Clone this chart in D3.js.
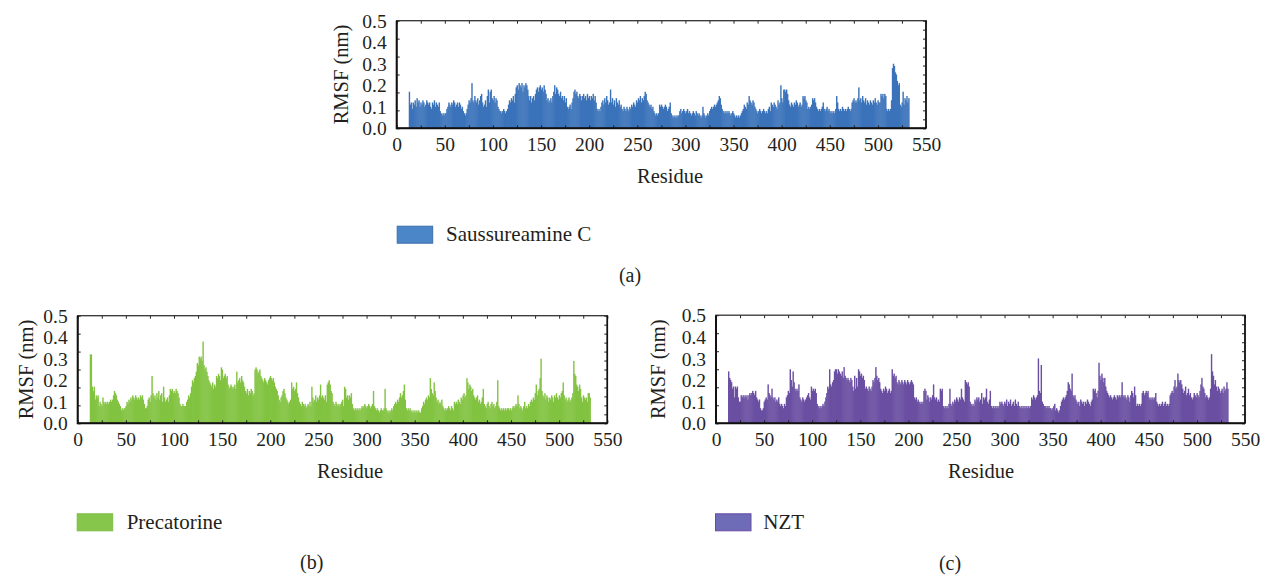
<!DOCTYPE html>
<html><head><meta charset="utf-8">
<script src="https://cdn.jsdelivr.net/npm/d3@7"></script>
<style>
body{margin:0;background:#fff}
svg{display:block}
text{font-family:"Liberation Serif","Times New Roman",serif;fill:#231f20}
</style>
</head><body>
<svg id="chart" width="1263" height="575"></svg>
<script>
// ---------------- DATA ----------------
const firstResidue = 13;   // residue number of the first value in every series

const rmsfSaussureamineC = [
0.17,0.11,0.12,0.09,0.12,0.11,0.13,0.10,0.14,0.12,
0.13,0.10,0.12,0.11,0.13,0.12,0.10,0.11,0.13,0.12,
0.11,0.12,0.10,0.09,0.12,0.11,0.13,0.10,0.12,0.11,
0.10,0.12,0.08,0.07,0.06,0.07,0.06,0.07,0.07,0.09,
0.10,0.12,0.11,0.10,0.12,0.11,0.13,0.12,0.10,0.11,
0.12,0.10,0.12,0.11,0.09,0.10,0.08,0.07,0.06,0.07,
0.09,0.11,0.13,0.12,0.14,0.21,0.13,0.12,0.15,0.13,
0.12,0.14,0.11,0.13,0.15,0.16,0.12,0.10,0.11,0.13,
0.10,0.15,0.18,0.12,0.17,0.18,0.14,0.13,0.15,0.12,
0.14,0.13,0.10,0.09,0.08,0.08,0.07,0.08,0.09,0.08,
0.07,0.08,0.09,0.11,0.13,0.12,0.14,0.13,0.15,0.12,
0.16,0.19,0.20,0.18,0.21,0.20,0.19,0.21,0.17,0.20,
0.19,0.21,0.20,0.18,0.15,0.13,0.15,0.12,0.14,0.15,
0.13,0.16,0.18,0.19,0.17,0.19,0.20,0.18,0.19,0.17,
0.20,0.18,0.16,0.13,0.14,0.12,0.13,0.14,0.12,0.15,
0.17,0.20,0.16,0.19,0.18,0.16,0.15,0.17,0.14,0.15,
0.13,0.15,0.12,0.14,0.10,0.09,0.10,0.11,0.09,0.12,
0.14,0.17,0.18,0.16,0.17,0.15,0.14,0.16,0.15,0.13,
0.15,0.16,0.14,0.15,0.13,0.16,0.14,0.15,0.13,0.15,
0.14,0.16,0.13,0.15,0.12,0.09,0.08,0.09,0.08,0.10,
0.12,0.13,0.11,0.14,0.12,0.15,0.13,0.11,0.12,0.18,
0.12,0.14,0.11,0.13,0.10,0.14,0.12,0.11,0.13,0.10,
0.11,0.09,0.08,0.10,0.09,0.08,0.10,0.09,0.08,0.10,
0.09,0.11,0.10,0.12,0.11,0.10,0.13,0.12,0.14,0.13,
0.15,0.12,0.14,0.13,0.15,0.17,0.16,0.13,0.12,0.11,
0.10,0.11,0.09,0.10,0.08,0.07,0.06,0.07,0.06,0.07,
0.11,0.10,0.11,0.10,0.09,0.10,0.11,0.10,0.08,0.09,
0.10,0.12,0.07,0.06,0.05,0.06,0.05,0.06,0.05,0.06,
0.06,0.08,0.09,0.07,0.08,0.09,0.08,0.07,0.08,0.09,
0.07,0.08,0.07,0.06,0.07,0.08,0.07,0.06,0.08,0.07,
0.06,0.07,0.06,0.05,0.06,0.10,0.07,0.06,0.05,0.06,
0.07,0.06,0.08,0.09,0.10,0.09,0.10,0.11,0.10,0.11,
0.12,0.13,0.15,0.14,0.11,0.09,0.08,0.07,0.08,0.07,
0.08,0.07,0.08,0.07,0.06,0.07,0.08,0.07,0.06,0.05,
0.06,0.05,0.06,0.05,0.06,0.07,0.08,0.09,0.11,0.10,
0.09,0.12,0.11,0.15,0.13,0.12,0.11,0.13,0.12,0.10,
0.09,0.08,0.07,0.08,0.09,0.08,0.07,0.08,0.09,0.08,
0.07,0.08,0.07,0.09,0.10,0.08,0.12,0.11,0.10,0.12,
0.11,0.10,0.09,0.13,0.11,0.12,0.20,0.14,0.12,0.18,
0.18,0.17,0.18,0.16,0.13,0.11,0.10,0.12,0.11,0.10,
0.12,0.11,0.13,0.12,0.10,0.11,0.12,0.10,0.11,0.15,
0.14,0.15,0.13,0.12,0.09,0.10,0.09,0.10,0.11,0.14,
0.13,0.14,0.12,0.10,0.09,0.08,0.09,0.08,0.09,0.10,
0.12,0.09,0.08,0.09,0.10,0.08,0.09,0.08,0.07,0.08,
0.07,0.08,0.07,0.09,0.15,0.12,0.09,0.08,0.09,0.08,
0.10,0.09,0.08,0.09,0.08,0.09,0.10,0.09,0.08,0.09,
0.12,0.13,0.14,0.12,0.13,0.12,0.14,0.19,0.13,0.14,
0.12,0.15,0.13,0.12,0.14,0.11,0.13,0.12,0.11,0.13,
0.12,0.11,0.13,0.12,0.14,0.12,0.11,0.13,0.12,0.12,
0.16,0.15,0.16,0.14,0.16,0.15,0.09,0.08,0.09,0.08,
0.09,0.13,0.28,0.30,0.29,0.26,0.25,0.22,0.20,0.21,
0.11,0.10,0.12,0.17,0.11,0.14,0.13,0.15,0.12,0.14
];

const rmsfPrecatorine = [
0.32,0.32,0.17,0.15,0.17,0.11,0.13,0.12,0.13,0.08,
0.10,0.09,0.08,0.12,0.10,0.09,0.10,0.09,0.10,0.09,
0.10,0.11,0.10,0.11,0.13,0.15,0.14,0.13,0.11,0.10,
0.09,0.08,0.06,0.07,0.06,0.07,0.07,0.08,0.10,0.09,
0.11,0.10,0.12,0.11,0.13,0.12,0.11,0.13,0.12,0.11,
0.12,0.11,0.13,0.12,0.13,0.11,0.09,0.07,0.07,0.08,
0.11,0.12,0.10,0.13,0.22,0.14,0.12,0.13,0.11,0.14,
0.12,0.15,0.11,0.13,0.14,0.10,0.17,0.12,0.10,0.11,
0.12,0.10,0.13,0.16,0.15,0.16,0.14,0.15,0.14,0.16,
0.15,0.14,0.12,0.09,0.08,0.08,0.09,0.08,0.08,0.08,
0.10,0.11,0.13,0.12,0.14,0.17,0.20,0.19,0.21,0.22,
0.24,0.28,0.27,0.31,0.30,0.31,0.29,0.38,0.27,0.25,
0.26,0.24,0.22,0.20,0.19,0.18,0.17,0.19,0.16,0.18,
0.17,0.22,0.21,0.23,0.22,0.20,0.26,0.25,0.21,0.22,
0.23,0.21,0.22,0.18,0.16,0.17,0.18,0.17,0.16,0.17,
0.18,0.16,0.24,0.19,0.20,0.21,0.19,0.22,0.20,0.19,
0.17,0.15,0.14,0.16,0.13,0.15,0.14,0.16,0.15,0.13,
0.14,0.25,0.26,0.25,0.23,0.24,0.25,0.22,0.21,0.20,
0.19,0.21,0.20,0.19,0.18,0.20,0.21,0.22,0.21,0.20,
0.21,0.19,0.17,0.16,0.15,0.13,0.11,0.10,0.12,0.13,
0.15,0.16,0.14,0.12,0.11,0.10,0.09,0.10,0.11,0.19,
0.16,0.17,0.15,0.16,0.19,0.14,0.12,0.10,0.09,0.08,
0.10,0.09,0.08,0.09,0.07,0.08,0.09,0.08,0.10,0.08,
0.17,0.12,0.10,0.11,0.13,0.10,0.12,0.11,0.13,0.18,
0.12,0.13,0.12,0.11,0.13,0.10,0.18,0.19,0.20,0.18,
0.15,0.14,0.10,0.09,0.08,0.10,0.09,0.08,0.09,0.08,
0.09,0.10,0.11,0.08,0.17,0.16,0.12,0.13,0.11,0.13,
0.12,0.14,0.09,0.07,0.06,0.07,0.06,0.07,0.06,0.07,
0.06,0.07,0.08,0.07,0.08,0.09,0.08,0.07,0.08,0.09,
0.08,0.07,0.08,0.09,0.15,0.08,0.07,0.06,0.07,0.06,
0.05,0.06,0.07,0.06,0.06,0.07,0.16,0.07,0.06,0.05,
0.06,0.05,0.06,0.07,0.06,0.08,0.09,0.10,0.09,0.11,
0.10,0.12,0.14,0.12,0.13,0.15,0.18,0.11,0.07,0.06,
0.07,0.06,0.07,0.06,0.05,0.06,0.05,0.06,0.05,0.06,
0.05,0.06,0.05,0.05,0.07,0.08,0.10,0.09,0.11,0.12,
0.11,0.13,0.12,0.21,0.16,0.14,0.13,0.19,0.15,0.12,
0.10,0.11,0.09,0.10,0.09,0.11,0.08,0.07,0.06,0.07,
0.06,0.07,0.08,0.07,0.06,0.08,0.07,0.06,0.10,0.09,
0.10,0.09,0.11,0.10,0.09,0.12,0.11,0.13,0.14,0.12,
0.13,0.21,0.19,0.16,0.18,0.17,0.15,0.16,0.13,0.12,
0.11,0.12,0.13,0.10,0.11,0.09,0.10,0.12,0.16,0.09,
0.08,0.07,0.09,0.10,0.08,0.07,0.09,0.10,0.08,0.09,
0.07,0.08,0.10,0.20,0.08,0.07,0.06,0.07,0.06,0.07,
0.06,0.07,0.06,0.07,0.07,0.06,0.07,0.06,0.07,0.08,
0.07,0.08,0.09,0.08,0.13,0.09,0.07,0.08,0.07,0.06,
0.08,0.10,0.07,0.08,0.07,0.09,0.08,0.10,0.11,0.10,
0.12,0.11,0.14,0.18,0.13,0.15,0.16,0.21,0.30,0.15,
0.13,0.12,0.14,0.11,0.13,0.12,0.10,0.12,0.11,0.13,
0.12,0.10,0.13,0.12,0.14,0.12,0.11,0.13,0.12,0.14,
0.15,0.19,0.13,0.11,0.12,0.10,0.11,0.12,0.10,0.11,
0.12,0.14,0.29,0.23,0.22,0.18,0.17,0.15,0.18,0.16,
0.12,0.10,0.13,0.12,0.11,0.12,0.10,0.14,0.14,0.12
];

const rmsfNZT = [
0.24,0.21,0.20,0.19,0.16,0.17,0.12,0.17,0.16,0.17,
0.12,0.10,0.10,0.13,0.12,0.13,0.12,0.13,0.12,0.13,
0.11,0.13,0.14,0.13,0.14,0.15,0.14,0.13,0.15,0.12,
0.11,0.10,0.11,0.07,0.06,0.06,0.07,0.10,0.11,0.12,
0.11,0.18,0.14,0.13,0.12,0.16,0.12,0.11,0.12,0.10,
0.11,0.10,0.12,0.09,0.08,0.09,0.08,0.07,0.09,0.08,
0.12,0.13,0.15,0.14,0.25,0.20,0.17,0.24,0.19,0.16,
0.15,0.16,0.15,0.18,0.12,0.11,0.10,0.12,0.11,0.10,
0.11,0.12,0.13,0.14,0.12,0.11,0.17,0.15,0.16,0.15,
0.16,0.14,0.09,0.08,0.07,0.08,0.07,0.08,0.09,0.08,
0.10,0.12,0.14,0.17,0.16,0.25,0.18,0.17,0.19,0.20,
0.24,0.25,0.25,0.23,0.25,0.24,0.23,0.22,0.24,0.21,
0.26,0.22,0.21,0.20,0.21,0.20,0.19,0.21,0.20,0.17,
0.15,0.22,0.16,0.21,0.17,0.25,0.24,0.22,0.23,0.21,
0.22,0.20,0.16,0.17,0.16,0.15,0.17,0.16,0.15,0.17,
0.20,0.19,0.21,0.26,0.22,0.20,0.21,0.19,0.16,0.15,
0.14,0.16,0.15,0.17,0.16,0.14,0.15,0.16,0.14,0.15,
0.25,0.22,0.23,0.21,0.22,0.19,0.18,0.20,0.19,0.18,
0.20,0.19,0.18,0.20,0.19,0.18,0.20,0.19,0.18,0.19,
0.20,0.19,0.18,0.12,0.11,0.12,0.10,0.11,0.10,0.09,
0.10,0.09,0.10,0.15,0.16,0.15,0.11,0.13,0.12,0.10,
0.12,0.11,0.13,0.18,0.12,0.11,0.12,0.10,0.11,0.10,
0.16,0.15,0.16,0.08,0.07,0.08,0.07,0.08,0.07,0.09,
0.16,0.09,0.08,0.10,0.09,0.11,0.10,0.12,0.11,0.10,
0.12,0.11,0.16,0.12,0.11,0.10,0.20,0.19,0.18,0.19,
0.17,0.10,0.09,0.08,0.09,0.08,0.11,0.10,0.12,0.11,
0.12,0.10,0.11,0.14,0.09,0.12,0.11,0.12,0.16,0.10,
0.09,0.11,0.15,0.08,0.07,0.08,0.07,0.08,0.07,0.08,
0.07,0.08,0.10,0.09,0.10,0.09,0.08,0.10,0.09,0.11,
0.08,0.10,0.09,0.11,0.08,0.09,0.10,0.08,0.11,0.09,
0.08,0.10,0.08,0.07,0.08,0.07,0.08,0.07,0.08,0.07,
0.08,0.07,0.08,0.07,0.08,0.12,0.11,0.13,0.12,0.11,
0.12,0.13,0.30,0.15,0.14,0.27,0.10,0.09,0.08,0.08,
0.07,0.08,0.07,0.08,0.07,0.07,0.06,0.07,0.08,0.09,
0.06,0.07,0.06,0.05,0.06,0.08,0.10,0.11,0.12,0.11,
0.12,0.13,0.15,0.19,0.18,0.16,0.15,0.23,0.13,0.12,
0.13,0.11,0.10,0.09,0.10,0.08,0.11,0.10,0.09,0.10,
0.08,0.10,0.09,0.11,0.10,0.09,0.08,0.10,0.11,0.16,
0.15,0.16,0.14,0.12,0.15,0.28,0.22,0.20,0.23,0.21,
0.19,0.21,0.17,0.15,0.14,0.13,0.12,0.13,0.12,0.11,
0.12,0.13,0.12,0.11,0.13,0.12,0.13,0.12,0.13,0.19,
0.13,0.12,0.13,0.12,0.11,0.13,0.12,0.10,0.13,0.15,
0.14,0.12,0.17,0.13,0.08,0.09,0.08,0.09,0.08,0.09,
0.14,0.15,0.13,0.14,0.15,0.14,0.15,0.12,0.11,0.12,
0.11,0.12,0.11,0.12,0.14,0.10,0.09,0.08,0.09,0.08,
0.09,0.10,0.08,0.09,0.10,0.08,0.09,0.08,0.09,0.13,
0.14,0.15,0.14,0.17,0.20,0.16,0.17,0.23,0.20,0.19,
0.20,0.18,0.16,0.14,0.15,0.17,0.13,0.14,0.16,0.13,
0.14,0.12,0.11,0.12,0.14,0.13,0.12,0.14,0.13,0.12,
0.15,0.18,0.21,0.17,0.16,0.14,0.12,0.13,0.12,0.11,
0.12,0.16,0.32,0.24,0.22,0.18,0.20,0.17,0.15,0.17,
0.16,0.14,0.15,0.16,0.14,0.17,0.15,0.16,0.19,0.16
];

const seriesNames = ["Saussureamine C", "Precatorine", "NZT"];
const panelLetters = ["(a)", "(b)", "(c)"];
const xTickLabels = [0, 50, 100, 150, 200, 250, 300, 350, 400, 450, 500, 550];
const xMinorTicks = [0, 25, 50, 75, 100, 125, 150, 175, 200, 225, 250, 275, 300, 325, 350, 375, 400, 425, 450, 475, 500, 525, 550];
const yTickLabels = [0.0, 0.1, 0.2, 0.3, 0.4, 0.5];
const yFrameTicks = [0, 0.1, 0.2, 0.3, 0.4, 0.5, 0.6];
const yFrameMinorTicks = [0, 0.05, 0.1, 0.15, 0.2, 0.25, 0.3, 0.35, 0.4, 0.45, 0.5, 0.55, 0.6];
const xAxisTitle = "Residue";
const yAxisTitle = "RMSF (nm)";

// ---------------- LAYOUT / STYLE ----------------
const panels = [
  {values: rmsfSaussureamineC, name: seriesNames[0], letter: panelLetters[0],
   left: 396.7, top: 20.7, width: 529.3, height: 107.6, yTitleDx: -49, xTitleDx: 8.7,
   bar: "#3b73ba", swFill: "#4a86c8", swStroke: "#3d6eab",
   legend: {x: 396.7, y: 225.7, tx: 446, ty: 241}, caption: {x: 630, y: 282}},
  {values: rmsfPrecatorine, name: seriesNames[1], letter: panelLetters[1],
   left: 77.7, top: 315.7, width: 529.6, height: 107.6, yTitleDx: -45, xTitleDx: 7.5,
   bar: "#82c341", swFill: "#86c64a", swStroke: "#7dbd45",
   legend: {x: 76.7, y: 513.3, tx: 126.7, ty: 529}, caption: {x: 311.7, y: 569}},
  {values: rmsfNZT, name: seriesNames[2], letter: panelLetters[2],
   left: 716, top: 315.2, width: 529, height: 108.1, yTitleDx: -51, xTitleDx: 0.5,
   bar: "#6a4fa2", swFill: "#6e6cb6", swStroke: "#6a4aa6",
   legend: {x: 715, y: 513.3, tx: 763.3, ty: 529}, caption: {x: 950, y: 570}}
];

const svg = d3.select("#chart");
const fmtY = d3.format(".1f");

panels.forEach(p => {
  const g = svg.append("g").attr("transform", `translate(${p.left},${p.top})`);
  const x = d3.scaleLinear().domain([0, 550]).range([0, p.width]);
  const y = d3.scaleLinear().domain([0, 0.5]).range([p.height, 0]);
  const yFrame = d3.scaleLinear().domain([0, 0.6]).range([p.height, 0]);
  const bw = x(1) - x(0);

  // bars
  g.append("g").selectAll("rect").data(p.values).join("rect")
    .attr("x", (d, i) => x(firstResidue + i) - bw / 2)
    .attr("width", bw + 0.45)
    .attr("y", d => y(d))
    .attr("height", d => y(0) - y(d))
    .attr("fill", p.bar);

  // tick marks (inward)
  const tickStyle = sel => {
    sel.select(".domain").remove();
    sel.selectAll("line").attr("stroke", "#222").attr("stroke-width", 1);
    sel.selectAll("text").remove();
  };
  g.append("g").attr("transform", `translate(0,${p.height})`)
    .call(d3.axisBottom(x).tickValues(xMinorTicks).tickSize(-3)).call(tickStyle);
  g.append("g")
    .call(d3.axisTop(x).tickValues(xMinorTicks).tickSize(-3)).call(tickStyle);
  g.append("g")
    .call(d3.axisLeft(yFrame).tickValues(yFrameTicks).tickSize(-3)).call(tickStyle);
  g.append("g").attr("transform", `translate(${p.width},0)`)
    .call(d3.axisRight(yFrame).tickValues(yFrameMinorTicks).tickSize(-3)).call(tickStyle);

  // tick labels
  const xl = g.append("g").attr("transform", `translate(0,${p.height})`)
    .call(d3.axisBottom(x).tickValues(xTickLabels).tickSize(0).tickPadding(9).tickFormat(d3.format("d")));
  xl.select(".domain").remove();
  xl.selectAll("text").attr("font-size", 19.5).attr("fill", "#231f20")
    .attr("font-family", '"Liberation Serif", serif').attr("dy", "0.71em");

  const yl = g.append("g")
    .call(d3.axisLeft(y).tickValues(yTickLabels).tickSize(0).tickPadding(10).tickFormat(fmtY));
  yl.select(".domain").remove();
  yl.selectAll("text").attr("font-size", 19.5).attr("fill", "#231f20")
    .attr("font-family", '"Liberation Serif", serif').attr("dy", "0.34em");

  // frame
  g.append("rect").attr("x", 0).attr("y", 0).attr("width", p.width).attr("height", p.height)
    .attr("fill", "none").attr("stroke", "#333").attr("stroke-width", 1.3);
  g.append("path").attr("d", `M0,0V${p.height}H${p.width}`)
    .attr("fill", "none").attr("stroke", "#111").attr("stroke-width", 2);
  g.append("path").attr("d", `M${p.width},0V${p.height}`)
    .attr("fill", "none").attr("stroke", "#111").attr("stroke-width", 1.6);

  // axis titles
  g.append("text").attr("x", p.width / 2 + p.xTitleDx).attr("y", p.height + 54.5)
    .attr("text-anchor", "middle").attr("font-size", 20.5).text(xAxisTitle);
  g.append("text")
    .attr("transform", `translate(${p.yTitleDx},${p.height / 2}) rotate(-90)`)
    .attr("text-anchor", "middle").attr("font-size", 20.5).text(yAxisTitle);

  // legend
  svg.append("rect").attr("x", p.legend.x + 0.5).attr("y", p.legend.y + 0.5)
    .attr("width", 35.5).attr("height", 17)
    .attr("fill", p.swFill).attr("stroke", p.swStroke).attr("stroke-width", 1);
  svg.append("text").attr("x", p.legend.tx).attr("y", p.legend.ty)
    .attr("font-size", 21).text(p.name);

  // caption
  svg.append("text").attr("x", p.caption.x).attr("y", p.caption.y)
    .attr("text-anchor", "middle").attr("font-size", 20).text(p.letter);
});
</script>
</body></html>
